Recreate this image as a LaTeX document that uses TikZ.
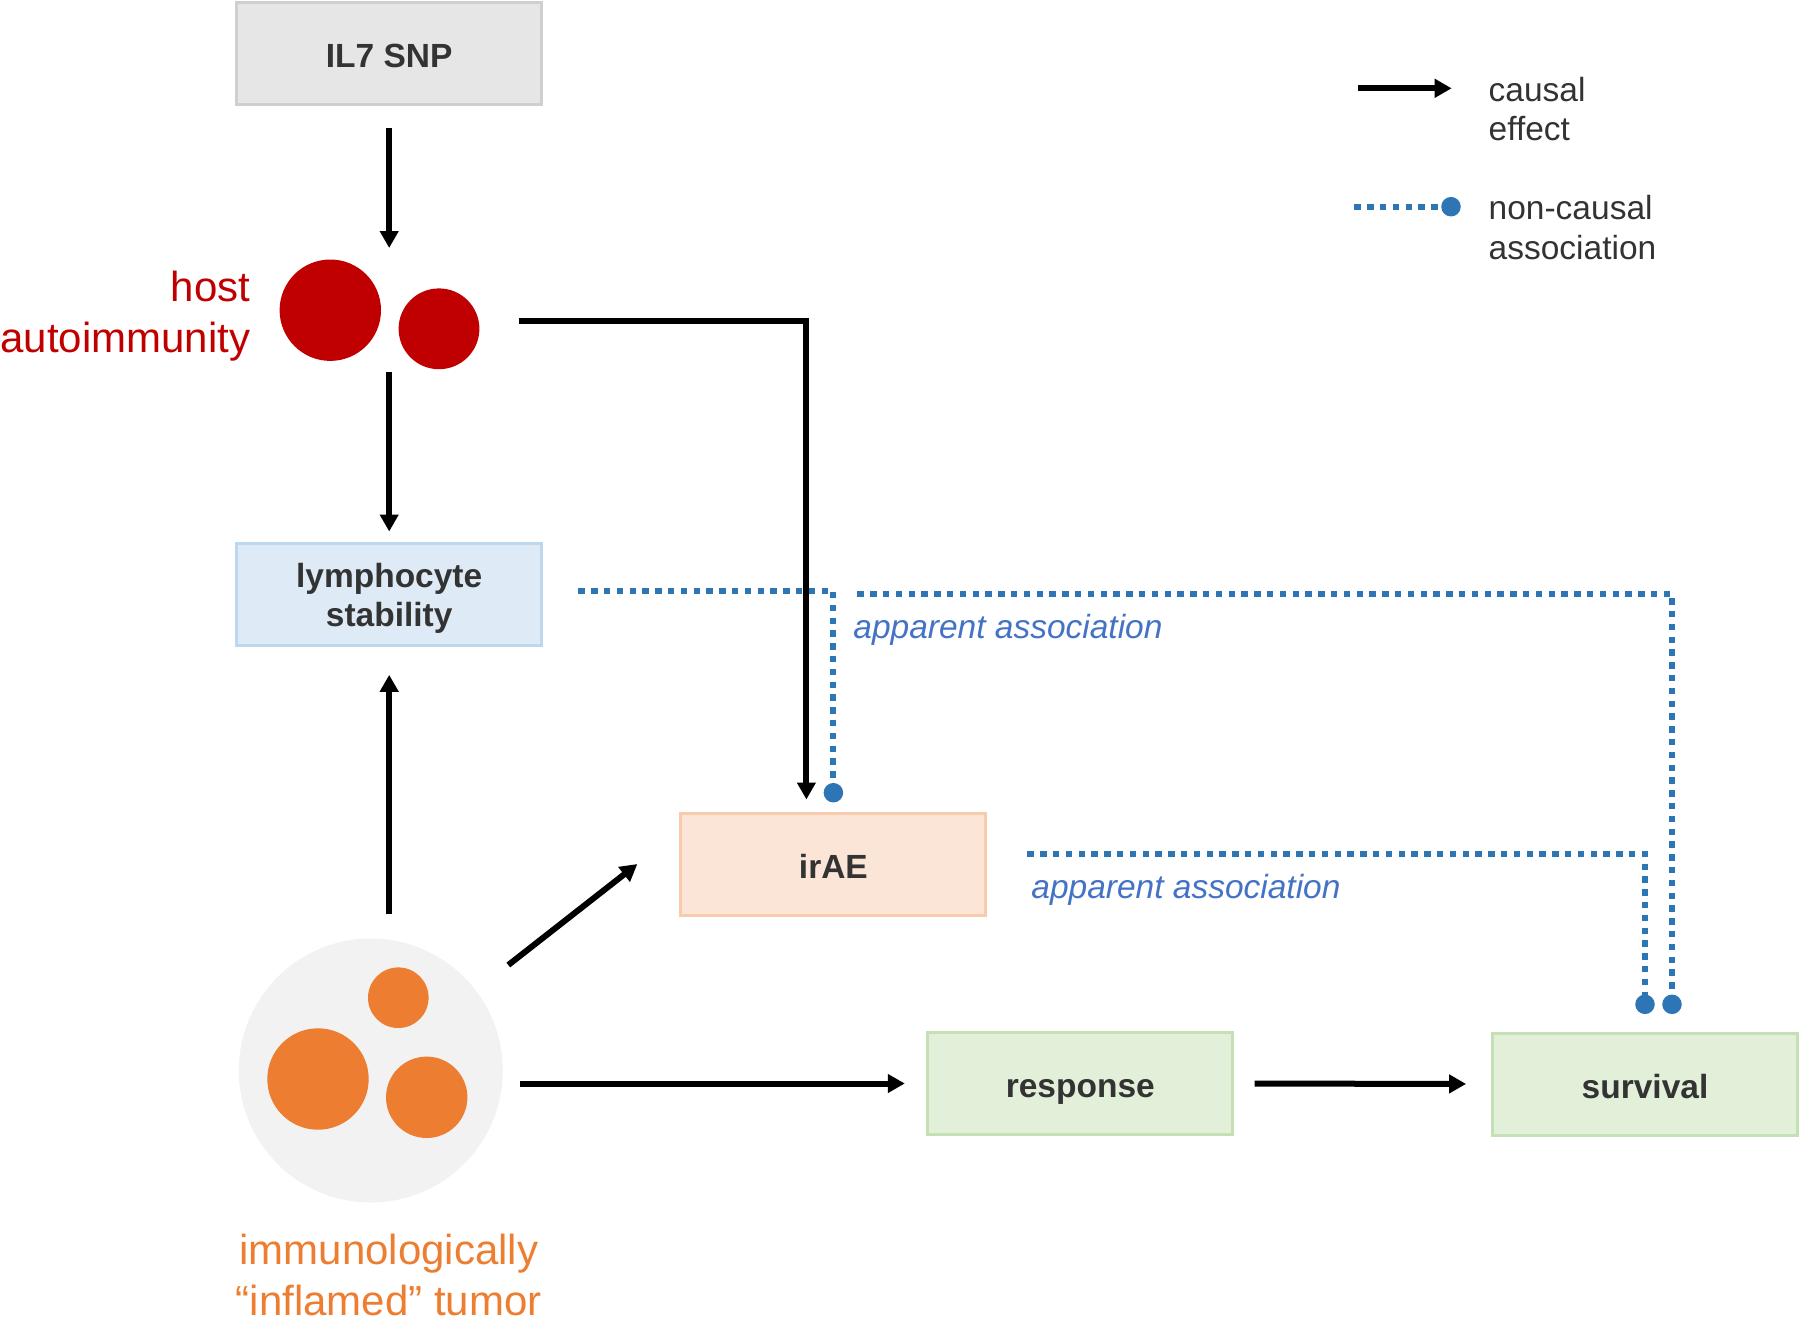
\documentclass[tikz,border=0pt]{standalone}
\usepackage{fontspec}
\setmainfont{Liberation Sans}
\usetikzlibrary{arrows.meta,calc}
\definecolor{txt}{HTML}{333333}
\definecolor{redc}{HTML}{C00000}
\definecolor{orangec}{HTML}{ED7D31}
\definecolor{dotblue}{HTML}{2E75B6}
\definecolor{labblue}{HTML}{4472C4}
\definecolor{grayfill}{HTML}{E6E6E6}
\definecolor{grayline}{HTML}{D0CECE}
\definecolor{bluefill}{HTML}{DEEBF7}
\definecolor{blueline}{HTML}{BDD7EE}
\definecolor{peachfill}{HTML}{FBE5D6}
\definecolor{peachline}{HTML}{F8CBAD}
\definecolor{greenfill}{HTML}{E2F0D9}
\definecolor{greenline}{HTML}{C5E0B4}
\definecolor{tumorfill}{HTML}{F2F2F2}
\tikzset{
  box/.style={rectangle, minimum width=152.5pt, minimum height=51pt, line width=1.5pt,
    inner sep=0pt, outer sep=0pt, text=txt,
    font=\fontsize{16.75}{19.5}\selectfont\bfseries},
  oneline/.style={text height=16.7pt, text depth=2.7pt},
  twoline/.style={text height=26.2pt, text depth=12.8pt},
  blob/.style={circle, inner sep=0pt, outer sep=0pt},
  arr/.style={line width=3pt, black, -{Triangle[length=8.5pt,width=9pt]}},
  assoc/.style={line width=3pt, dotblue, dash pattern=on 3.2pt off 3.2pt,
    -{Circle[length=9.7pt,width=9.7pt]}},
  applab/.style={anchor=west, inner sep=0pt, text=labblue,
    font=\fontsize{16.75}{20}\selectfont\itshape},
}
\begin{document}
\begin{tikzpicture}[x=0.5pt,y=-0.5pt]
\useasboundingbox (0,0) rectangle (1800,1318);

% boxes
\node[box, oneline, fill=grayfill, draw=grayline] (il7) at (389.2,53) {IL7 SNP};
\node[box, twoline, fill=bluefill, draw=blueline] (lymph) at (389.2,594)
  {\begin{tabular}{@{}c@{}}lymphocyte\\stability\end{tabular}};
\node[box, oneline, fill=peachfill, draw=peachline] (irae) at (833.4,864) {irAE};
\node[box, oneline, fill=greenfill, draw=greenline] (resp) at (1080.3,1083.5) {response};
\node[box, oneline, fill=greenfill, draw=greenline] (surv) at (1645,1084) {survival};

% host autoimmunity
\node[blob, fill=redc, minimum size=50.7pt] (hc1) at (330.3,310.2) {};
\node[blob, fill=redc, minimum size=40.4pt] (hc2) at (439,328.8) {};
\node[rectangle, minimum width=129.7pt, minimum height=62pt, inner sep=0pt, outer sep=0pt] (host) at (389.2,310) {};
\node[anchor=east, inner sep=0pt, align=right, text=redc,
  font=\fontsize{21}{25.35}\selectfont] (hostlab) at (250.7,315.8) {host\\autoimmunity};

% tumor
\node[blob, fill=tumorfill, minimum size=132pt] (tumor) at (370.8,1070.5) {};
\node[blob, fill=orangec, minimum size=30.3pt] (tc1) at (398.3,997.7) {};
\node[blob, fill=orangec, minimum size=50.7pt] (tc2) at (318,1079) {};
\node[blob, fill=orangec, minimum size=40.7pt] (tc3) at (426.7,1097.3) {};
\node[inner sep=0pt, align=center, text=orangec,
  font=\fontsize{21}{25.5}\selectfont] (tumorlab) at (388.8,1274.5) {immunologically\\“inflamed” tumor};

% causal arrows
\draw[arr, shorten <=12pt] (il7.south) -- (host.north);
\draw[arr, shorten >=5.75pt] (host.south) -- (lymph.north);
\draw[arr, shorten >=6.75pt] ($(host.east)+(0,10.5)$) -| ($(irae.north)+(-27,0)$);
\draw[arr, shorten >=14.9pt] ($(lymph.south|-tumor.north)+(0,-24.2)$) -- (lymph.south);
\draw[arr] ($(tumor.center)+(137.5,-105.5)$) -- ($(irae.west)+(-43.5,0)$);
\draw[arr, shorten <=8.5pt, shorten >=11.5pt] (tumor.east|-resp.west) -- (resp.west);
\draw[arr, shorten <=10.9pt, shorten >=13.2pt] (resp.east) -- (surv.west);

% non-causal associations
\draw[assoc, shorten >=5.3pt] ($(lymph.east)+(36.7,-3)$) -| (irae.north);
\coordinate (bstart) at (857.3,593.7);
\draw[assoc, shorten >=9.5pt] (bstart) -| ($(surv.north)+(27,0)$);
\draw[assoc, shorten >=9.5pt] ($(irae.east)+(41.4,-10)$) -| (surv.north);
\node[applab] (app1) at (853,630) {apparent association};
\node[applab] (app2) at (1031,889.8) {apparent association};

% legend
\coordinate (lc1) at (1358.3,88.3);
\coordinate (lc2) at (1451.7,88.3);
\draw[arr] (lc1) -- (lc2);
\coordinate (ln1) at (1354.3,206.7);
\coordinate (ln2) at (1460.7,206.7);
\draw[assoc] (ln1) -- (ln2);
\node[anchor=west, inner sep=0pt, align=left, text=txt,
  font=\fontsize{16.75}{19.65}\selectfont] (leg1) at (1488.3,109.35) {causal\\effect};
\node[anchor=west, inner sep=0pt, align=left, text=txt,
  font=\fontsize{16.75}{19.65}\selectfont] (leg2) at (1488.3,227.65) {non-causal\\association};
\end{tikzpicture}
\end{document}
